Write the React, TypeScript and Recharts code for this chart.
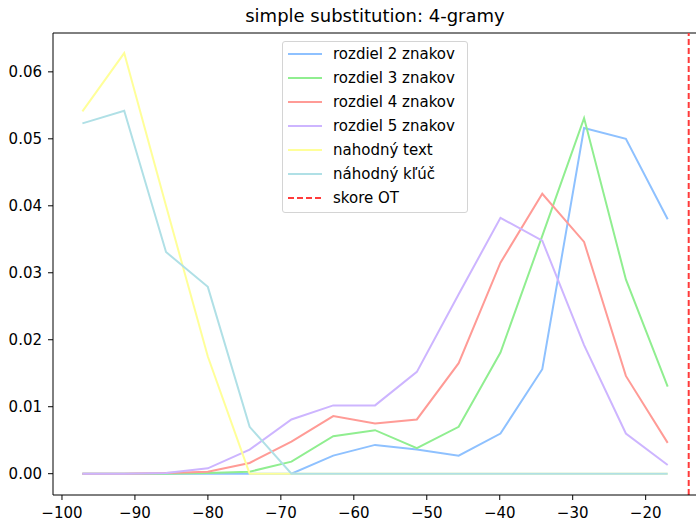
import { LineChart, Line, XAxis, YAxis, ReferenceLine } from "recharts";

// score bins (x) and the share of samples in each bin, one array per series
const scoreBins = [-97.2, -91.47, -85.74, -80.01, -74.28, -68.55, -62.82, -57.09, -51.36, -45.63, -39.9, -34.17, -28.44, -22.71, -16.98];
const diff2 = [0, 0, 0, 0, 0, 0, 0.0027, 0.0043, 0.0036, 0.0027, 0.006, 0.0156, 0.0516, 0.05, 0.038];
const diff3 = [0, 0, 0, 0.0001, 0.0003, 0.0018, 0.0056, 0.0065, 0.0038, 0.007, 0.0181, 0.0355, 0.0531, 0.029, 0.013];
const diff4 = [0, 0, 0.0001, 0.0003, 0.0016, 0.0048, 0.0086, 0.0075, 0.0081, 0.0165, 0.0315, 0.0418, 0.0346, 0.0146, 0.0046];
const diff5 = [0, 0, 0.0001, 0.0008, 0.0036, 0.0081, 0.0102, 0.0102, 0.0152, 0.0268, 0.0382, 0.0348, 0.0192, 0.006, 0.0013];
const randomText = [0.0541, 0.0628, 0.04, 0.0175, 0, 0, 0, 0, 0, 0, 0, 0, 0, 0, 0];
const randomKey = [0.0523, 0.0542, 0.0331, 0.0279, 0.007, 0, 0, 0, 0, 0, 0, 0, 0, 0, 0];
const otScore = -14.1;

const xTicks = [-100, -90, -80, -70, -60, -50, -40, -30, -20];
const yTicks = [0, 0.01, 0.02, 0.03, 0.04, 0.05, 0.06];

const seriesKeys = ["d2", "d3", "d4", "d5", "rt", "rk"];
const seriesNames = ["rozdiel 2 znakov", "rozdiel 3 znakov", "rozdiel 4 znakov", "rozdiel 5 znakov", "nahodný text", "náhodný kľúč"];
const seriesColors = ["#8ec1ff", "#90ee90", "#ff9b96", "#cdb5ff", "#ffff99", "#b0e0e6"];
const otName = "skore OT";
const otColor = "#ff3b3b";

const data = scoreBins.map((x, i) => ({
  x,
  d2: diff2[i],
  d3: diff3[i],
  d4: diff4[i],
  d5: diff5[i],
  rt: randomText[i],
  rk: randomKey[i],
}));

const X_DOMAIN: [number, number] = [-101.23, -13.1];
const Y_DOMAIN: [number, number] = [-0.00318, 0.0658];
const FONT = "'DejaVu Sans', sans-serif";
const tickStyle = { fill: "#000", fontSize: 15, fontFamily: FONT };

function LegendBox() {
  const rows = [
    ...seriesNames.map((n, i) => ({ name: n, color: seriesColors[i], dashed: false })),
    { name: otName, color: otColor, dashed: true },
  ];
  return (
    <div
      style={{
        position: "absolute",
        left: 282,
        top: 41,
        width: 186,
        height: 172,
        border: "1px solid #d4d4d4",
        borderRadius: 3,
        background: "rgba(255,255,255,0.8)",
        boxSizing: "border-box",
        fontFamily: FONT,
        fontSize: 15,
        color: "#000",
      }}
    >
      {rows.map((r, i) => (
        <div
          key={r.name}
          style={{
            position: "absolute",
            left: 0,
            top: 12.3 + i * 23.9 - 12,
            height: 24,
            display: "flex",
            alignItems: "center",
            whiteSpace: "nowrap",
          }}
        >
          <svg width={50} height={24} style={{ flex: "none" }}>
            <line
              x1={5}
              x2={39}
              y1={12}
              y2={12}
              stroke={r.color}
              strokeWidth={2}
              strokeDasharray={r.dashed ? "6 3" : undefined}
            />
          </svg>
          <span>{r.name}</span>
        </div>
      ))}
    </div>
  );
}

export default function App() {
  return (
    <div style={{ position: "absolute", left: 0, top: 0, width: 696, height: 521, overflow: "hidden", background: "#fff" }}>
      <div
        style={{
          position: "absolute",
          left: 175,
          width: 400,
          top: 5,
          textAlign: "center",
          fontFamily: FONT,
          fontSize: 18,
          lineHeight: "21px",
          color: "#000",
        }}
      >
        simple substitution: 4-gramy
      </div>
      <LineChart width={696} height={521} data={data} margin={{ top: 33, right: 0, left: 0, bottom: 0 }}>
        <XAxis
          dataKey="x"
          type="number"
          domain={X_DOMAIN}
          ticks={xTicks}
          allowDataOverflow
          height={26}
          tickSize={5}
          tickMargin={7}
          stroke="#000"
          tick={tickStyle}
          tickFormatter={(v: number) => String(v).replace("-", "\u2212")}
        />
        <YAxis
          type="number"
          domain={Y_DOMAIN}
          ticks={yTicks}
          allowDataOverflow
          width={53}
          tickSize={5}
          tickMargin={6}
          stroke="#000"
          tick={tickStyle}
          tickFormatter={(v: number) => v.toFixed(2)}
        />
        <ReferenceLine y={Y_DOMAIN[1]} stroke="#000" strokeWidth={1} />
        {seriesKeys.map((k, i) => (
          <Line
            key={k}
            type="linear"
            dataKey={k}
            name={seriesNames[i]}
            stroke={seriesColors[i]}
            strokeWidth={2}
            dot={false}
            activeDot={false}
            isAnimationActive={false}
          />
        ))}
        <ReferenceLine x={otScore} stroke={otColor} strokeWidth={2} strokeDasharray="6 3" />
      </LineChart>
      <LegendBox />
    </div>
  );
}
